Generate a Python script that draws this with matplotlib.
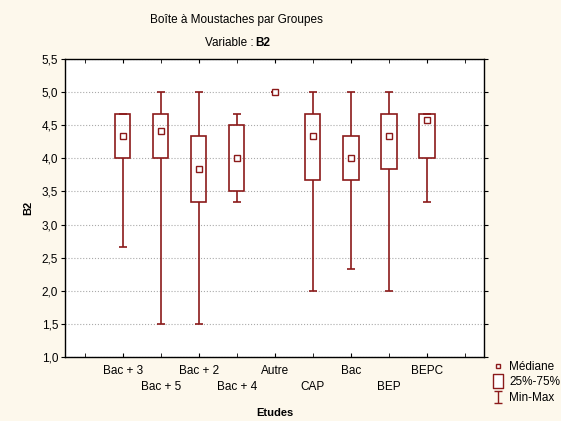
import matplotlib
matplotlib.use("Agg")
import matplotlib.pyplot as plt
import numpy as np
from matplotlib.path import Path
from matplotlib.lines import Line2D
from matplotlib.ticker import FuncFormatter

plt.rcParams['font.family'] = ['Liberation Sans', 'DejaVu Sans']

# Data (Etudes groups, variable B2)
groups = ["Bac + 3", "Bac + 5", "Bac + 2", "Bac + 4", "Autre", "CAP", "Bac", "BEP", "BEPC"]
medians = [4.333, 4.417, 3.833, 4.0, 5.0, 4.333, 4.0, 4.333, 4.583]
q1 = [4.0, 4.0, 3.333, 3.5, 5.0, 3.667, 3.667, 3.833, 4.0]
q3 = [4.667, 4.667, 4.333, 4.5, 5.0, 4.667, 4.333, 4.667, 4.667]
mins = [2.667, 1.5, 1.5, 3.333, 5.0, 2.0, 2.333, 2.0, 3.333]
maxs = [4.667, 5.0, 5.0, 4.667, 5.0, 5.0, 5.0, 5.0, 4.667]

red = '#8B1A1A'
bg = '#FDF8EC'

fig = plt.figure(figsize=(5.61, 4.21), dpi=100, facecolor=bg)
ax = fig.add_axes([0.1159, 0.152, 0.7468, 0.7079])
ax.set_facecolor('white')

pos = np.arange(1, len(groups) + 1)
q1a = np.array(q1)
q3a = np.array(q3)
has_box = q3a > q1a

# boxes
ax.bar(pos[has_box], (q3a - q1a)[has_box], bottom=q1a[has_box], width=0.4,
       fill=False, edgecolor=red, linewidth=1.2, zorder=3)
# whiskers + caps
ax.vlines(pos, mins, q1, color=red, linewidth=1.2, zorder=3)
ax.vlines(pos, q3, maxs, color=red, linewidth=1.2, zorder=3)
ax.hlines(mins, pos - 0.11, pos + 0.11, color=red, linewidth=1.2, zorder=3)
ax.hlines(maxs, pos - 0.11, pos + 0.11, color=red, linewidth=1.2, zorder=3)
# medians
ax.plot(pos, medians, 's', markersize=4, markerfacecolor='white',
        markeredgecolor=red, markeredgewidth=1.0, linestyle='none', zorder=4)

ax.set_xlim(-0.52, 10.5)
ax.set_ylim(1.0, 5.5)
ax.set_yticks(np.arange(1.0, 5.51, 0.5))
ax.yaxis.set_major_formatter(FuncFormatter(lambda v, p: f"{v:.1f}".replace('.', ',')))
ax.yaxis.grid(True, linestyle=':', color='#AAAAAA', linewidth=0.8)
ax.set_axisbelow(True)

# staggered x labels: odd groups on first row, even groups on second row
ax.set_xticks(pos[0::2])
ax.set_xticklabels(groups[0::2])
ax.set_xticks([0, 2, 4, 6, 8, 10], minor=True)
ax.set_xticklabels([""] + groups[1::2] + [""], minor=True)
ax.tick_params(axis='x', which='both', direction='in', length=3, top=True,
               labelsize=8.5, pad=6)
ax.tick_params(axis='x', which='minor', pad=17)
ax.tick_params(axis='y', direction='out', length=3, labelsize=8.5, pad=2)
ax.tick_params(axis='y', which='both', right=True)
for s in ax.spines.values():
    s.set_linewidth(1.0)

ax.set_ylabel("B2", fontsize=8, fontweight='bold', labelpad=6)
ax.set_xlabel("Etudes", fontsize=8, fontweight='bold', labelpad=11)

fig.text(0.421, 0.952, "Boîte à Moustaches par Groupes", ha='center', va='center', fontsize=8.5)
fig.text(0.4528, 0.898, "Variable :", ha='right', va='center', fontsize=8.5)
fig.text(0.4545, 0.898, "B2", ha='left', va='center', fontsize=8.5, fontweight='bold')

# legend
ibeam = Path([(-0.8, 1), (0.8, 1), (0, 1), (0, -1), (-0.8, -1), (0.8, -1)],
             [Path.MOVETO, Path.LINETO, Path.MOVETO, Path.LINETO, Path.MOVETO, Path.LINETO])
tallbox = Path([(-0.7, -1), (0.7, -1), (0.7, 1), (-0.7, 1), (-0.7, -1)],
               [Path.MOVETO, Path.LINETO, Path.LINETO, Path.LINETO, Path.CLOSEPOLY])
handles = [
    Line2D([], [], marker='s', markersize=3.5, markerfacecolor='white',
           markeredgecolor=red, markeredgewidth=1.0, linestyle='none'),
    Line2D([], [], marker=tallbox, markersize=10, markerfacecolor='white',
           markeredgecolor=red, markeredgewidth=1.0, linestyle='none'),
    Line2D([], [], marker=ibeam, markersize=8, markerfacecolor='none',
           markeredgecolor=red, markeredgewidth=1.0, linestyle='none'),
]
fig.legend(handles, ["Médiane", "25%-75%", "Min-Max"], loc='upper left',
           bbox_to_anchor=(0.862, 0.163), frameon=False, fontsize=8.5,
           handlelength=1.0, handletextpad=0.45, labelspacing=0.3, borderpad=0.2)

fig.savefig("out.png", dpi=100, facecolor=bg)
